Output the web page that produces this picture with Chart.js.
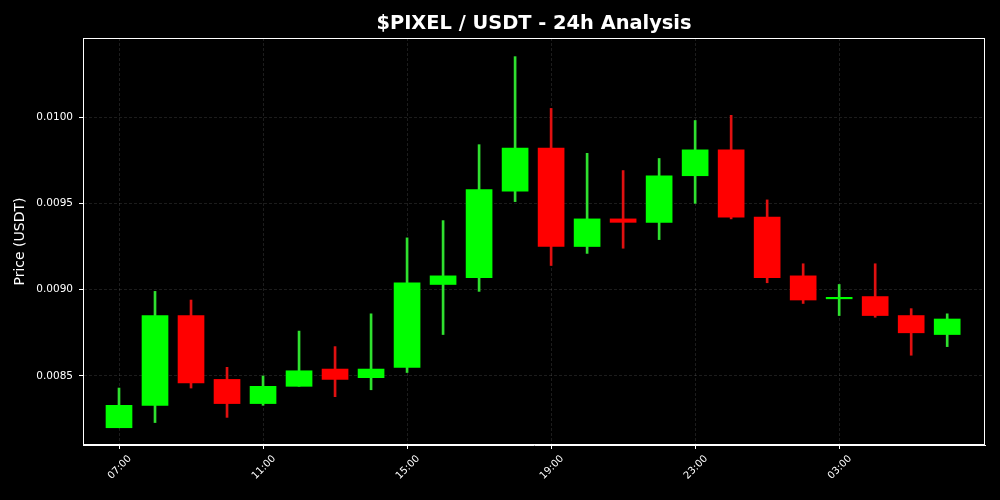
<!DOCTYPE html>
<html>
<head>
<meta charset="utf-8">
<script src="https://cdn.jsdelivr.net/npm/chart.js@4.4.1/dist/chart.umd.min.js"></script>
<style>
    html, body { margin: 0; padding: 0; background: #000; }
    #wrap { width: 1000px; height: 500px; }
</style>
</head>
<body>
<div id="wrap"><canvas id="candles" width="1000" height="500"></canvas></div>
<script>
// hourly candles, 07:00 -> 06:00
const hours = ["07:00", "08:00", "09:00", "10:00", "11:00", "12:00", "13:00", "14:00",
    "15:00", "16:00", "17:00", "18:00", "19:00", "20:00", "21:00", "22:00",
    "23:00", "00:00", "01:00", "02:00", "03:00", "04:00", "05:00", "06:00"];

const opens = [0.00820, 0.00833, 0.00885, 0.00848, 0.00834, 0.00844, 0.00854, 0.00849,
    0.00855, 0.00903, 0.00907, 0.00957, 0.00982, 0.00925, 0.00941, 0.00939,
    0.00966, 0.00981, 0.00942, 0.00908, 0.008947, 0.00896, 0.00885, 0.00874];
const closes = [0.00833, 0.00885, 0.00846, 0.00834, 0.00844, 0.00853, 0.00848, 0.00854,
    0.00904, 0.00908, 0.00958, 0.00982, 0.00925, 0.00941, 0.00939, 0.00966,
    0.00981, 0.00942, 0.00907, 0.00894, 0.008949, 0.00885, 0.00875, 0.00883];
const highs = [0.00843, 0.00899, 0.00894, 0.00855, 0.00850, 0.00876, 0.00867, 0.00886,
    0.00930, 0.00940, 0.00984, 0.01035, 0.01005, 0.00979, 0.00969, 0.00976,
    0.00998, 0.01001, 0.00952, 0.00915, 0.00903, 0.00915, 0.00889, 0.00886];
const lows = [0.00820, 0.00823, 0.00843, 0.00826, 0.00833, 0.00844, 0.00838, 0.00842,
    0.00852, 0.00874, 0.00899, 0.00951, 0.00914, 0.00921, 0.00924, 0.00929,
    0.00950, 0.00941, 0.00904, 0.00892, 0.00885, 0.00884, 0.00862, 0.00867];

const yTicks = [0.0085, 0.0090, 0.0095, 0.0100];
const xTickIdx = [0, 4, 8, 12, 16, 20];

const UP = "#00ff00";
const DOWN = "#ff0000";
const UP_WICK = "#2fe02f";
const DOWN_WICK = "#e01010";

const isUp = hours.map((h, i) => closes[i] >= opens[i]);

const bgPlugin = {
    id: "blackBackground",
    beforeDraw(chart) {
        const { ctx, width, height } = chart;
        ctx.save();
        ctx.fillStyle = "#000";
        ctx.fillRect(0, 0, width, height);
        ctx.restore();
    }
};

const framePlugin = {
    id: "frameAndTitle",
    afterDraw(chart) {
        const { ctx, chartArea } = chart;
        ctx.save();
        ctx.strokeStyle = "#ffffff";
        ctx.lineWidth = 1;
        ctx.strokeRect(chartArea.left + 0.5, chartArea.top + 0.5,
            chartArea.right - chartArea.left - 1, chartArea.bottom - chartArea.top - 1);

        ctx.fillStyle = "#ffffff";
        ctx.font = "bold 19.4px 'DejaVu Sans', sans-serif";
        ctx.textAlign = "center";
        ctx.textBaseline = "middle";
        ctx.fillText("$PIXEL / USDT - 24h Analysis", (chartArea.left + chartArea.right) / 2, 24);
        ctx.restore();
    }
};

new Chart(document.getElementById("candles"), {
    type: "bar",
    data: {
        datasets: [
            {
                label: "wick",
                data: hours.map((h, i) => ({ x: i, y: [lows[i], highs[i]] })),
                backgroundColor: isUp.map(u => u ? UP_WICK : DOWN_WICK),
                barThickness: 2,
                grouped: false,
                borderWidth: 0,
                order: 2
            },
            {
                label: "body",
                data: hours.map((h, i) => ({ x: i, y: [opens[i], closes[i]] })),
                backgroundColor: isUp.map(u => u ? UP : DOWN),
                barThickness: 26,
                minBarLength: 1.5,
                grouped: false,
                borderWidth: 0,
                order: 1
            }
        ]
    },
    options: {
        responsive: false,
        animation: false,
        events: [],
        layout: { padding: { top: 38, right: 15, left: 0, bottom: 0 } },
        plugins: {
            legend: { display: false },
            tooltip: { enabled: false }
        },
        scales: {
            x: {
                type: "linear",
                offset: false,
                min: -1,
                max: 24.05,
                afterBuildTicks(scale) {
                    scale.ticks = xTickIdx.map(v => ({ value: v }));
                },
                afterFit(scale) { scale.height = 55; },
                ticks: {
                    color: "#ffffff",
                    font: { family: "'DejaVu Sans', sans-serif", size: 10 },
                    minRotation: 45,
                    maxRotation: 45,
                    padding: 4,
                    labelOffset: 11,
                    callback: value => hours[value]
                },
                grid: {
                    offset: false,
                    color: "rgba(255,255,255,0.11)",
                    tickColor: "#ffffff",
                    tickLength: 4
                },
                border: { color: "#ffffff", dash: [3, 2] }
            },
            y: {
                type: "linear",
                min: 0.0081,
                max: 0.010458,
                afterBuildTicks(scale) {
                    scale.ticks = yTicks.map(v => ({ value: v }));
                },
                afterFit(scale) { scale.width = 83; },
                ticks: {
                    color: "#ffffff",
                    font: { family: "'DejaVu Sans', sans-serif", size: 10.5 },
                    padding: 6,
                    callback: value => Number(value).toFixed(4)
                },
                grid: {
                    color: "rgba(255,255,255,0.11)",
                    tickColor: "#ffffff",
                    tickLength: 4
                },
                border: { color: "#ffffff", dash: [3, 2] },
                title: {
                    display: true,
                    text: "Price (USDT)",
                    color: "#ffffff",
                    font: { family: "'DejaVu Sans', sans-serif", size: 14 },
                    padding: { top: 12, bottom: 4 }
                }
            }
        }
    },
    plugins: [bgPlugin, framePlugin]
});
</script>
</body>
</html>
